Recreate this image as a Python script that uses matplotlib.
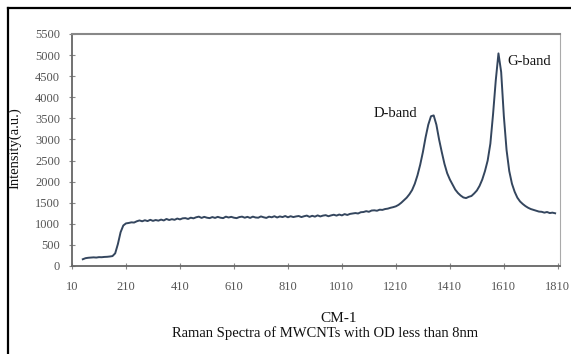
import numpy as np
import matplotlib
matplotlib.use('Agg')
import matplotlib.pyplot as plt
from matplotlib.lines import Line2D

# Raman spectrum, sampled every 10 cm-1 from 50 to 1800
wavenumber = np.arange(50, 1810, 10)
intensity = [
    160, 185, 195, 200, 205, 200, 210, 208, 215, 218,
    225, 235, 300, 520, 800, 960, 1010, 1020, 1035, 1030,
    1060, 1080, 1060, 1085, 1065, 1095, 1070, 1090, 1075, 1100,
    1080, 1115, 1090, 1110, 1095, 1125, 1105, 1130, 1135, 1115,
    1145, 1130, 1155, 1170, 1140, 1165, 1145, 1135, 1160, 1140,
    1165, 1145, 1135, 1170, 1150, 1165, 1145, 1135, 1160, 1170,
    1145, 1165, 1140, 1170, 1150, 1145, 1175, 1155, 1140, 1170,
    1155, 1180, 1150, 1175, 1160, 1185, 1155, 1180, 1160, 1175,
    1185, 1160, 1180, 1195, 1165, 1190, 1170, 1200, 1175, 1195,
    1205, 1180, 1200, 1215, 1195, 1220, 1200, 1230, 1210, 1235,
    1245, 1255, 1245, 1275, 1280, 1300, 1285, 1315, 1320, 1310,
    1335, 1330, 1350, 1360, 1380, 1395, 1415, 1450, 1500, 1560,
    1620, 1700, 1800, 1950, 2150, 2400, 2700, 3050, 3350, 3550,
    3570, 3350, 3000, 2700, 2420, 2200, 2050, 1930, 1810, 1730,
    1670, 1625, 1610, 1640, 1660, 1720, 1790, 1900, 2050, 2250,
    2500, 2900, 3600, 4400, 5040, 4600, 3550, 2750, 2250, 1950,
    1760, 1620, 1530, 1470, 1420, 1380, 1350, 1330, 1310, 1290,
    1285, 1265, 1280, 1255, 1265, 1250,
]

xticks = [10, 210, 410, 610, 810, 1010, 1210, 1410, 1610, 1810]
yticks = list(range(0, 5501, 500))

bands = [('D-band', 1209, 3626), ('G-band', 1704, 4859)]

plt.rcParams['font.family'] = ['Liberation Serif', 'DejaVu Serif']

fig = plt.figure(figsize=(5.71, 3.54), dpi=100)
ax = fig.add_axes([72 / 571, 1 - 266 / 354, (560 - 72) / 571, (266 - 34) / 354])

ax.plot(wavenumber, intensity, color='#34465e', lw=1.4)

for name, bx, by in bands:
    ax.text(bx, by, name, ha='center', va='center', fontsize=10.5, color='#111111')

ax.set_xlim(10, 1818)
ax.set_ylim(0, 5500)
ax.set_xticks(xticks)
ax.set_yticks(yticks)
ax.tick_params(direction='inout', length=5, width=0.8, color='#888888',
               labelcolor='#555555', labelsize=9)
ax.tick_params(axis='x', pad=8)
ax.tick_params(axis='y', pad=6)

for side in ['left', 'bottom']:
    ax.spines[side].set_color('#666666')
    ax.spines[side].set_linewidth(1.3)
ax.spines['top'].set_color('#888888')
ax.spines['top'].set_linewidth(1.5)
ax.spines['right'].set_color('#aaaaaa')
ax.spines['right'].set_linewidth(0.8)

fig.text(15 / 571, 1 - 148 / 354, 'Intensity(a.u.)', rotation=90,
         ha='center', va='center', fontsize=10.5, color='#111111')
fig.text(339 / 571, 1 - 318 / 354, 'CM-1', ha='center', va='center',
         fontsize=11, color='#111111')
fig.text(325 / 571, 1 - 333 / 354, 'Raman Spectra of MWCNTs with OD less than 8nm',
         ha='center', va='center', fontsize=10.5, color='#111111')

# outer frame, only left and top edges show
fig.add_artist(Line2D([8 / 571, 8 / 571], [0, 1 - 8 / 354],
                      transform=fig.transFigure, color='black', lw=1.6))
fig.add_artist(Line2D([8 / 571, 1], [1 - 8 / 354, 1 - 8 / 354],
                      transform=fig.transFigure, color='black', lw=1.6))

fig.savefig('out.png', dpi=100, facecolor='white')
